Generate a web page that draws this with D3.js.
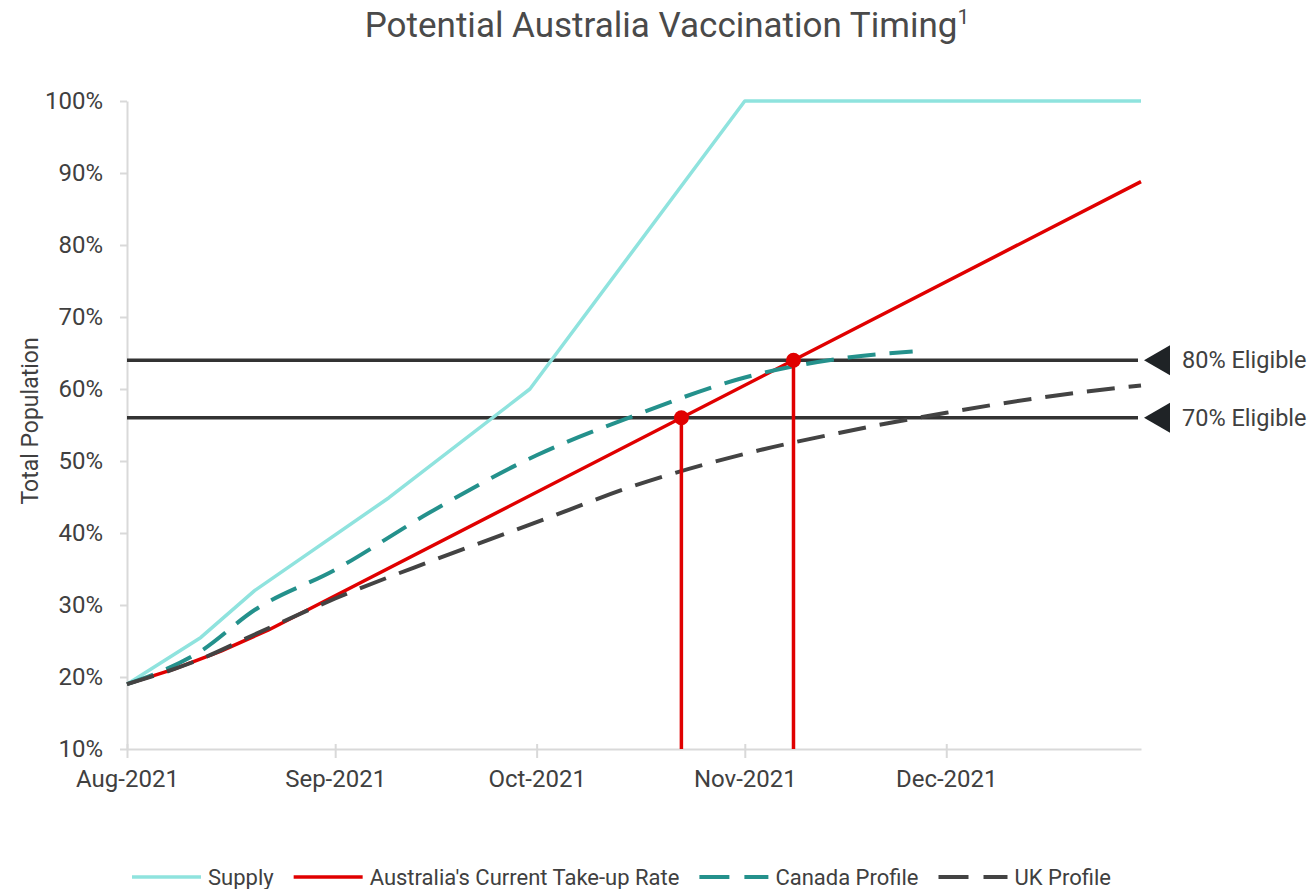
<!DOCTYPE html>
<html>
<head>
<meta charset="utf-8">
<script src="https://cdn.jsdelivr.net/npm/d3@7"></script>
<style>
  body { margin: 0; background: #fff; }
  svg { display: block; font-family: Roboto, "Noto Sans", sans-serif; }
</style>
</head>
<body>
<svg width="1312" height="889"></svg>
<script>
// series data (values are % of total population)
const supplyDates = ["2021-08-01", "2021-08-12", "2021-08-20", "2021-09-09", "2021-09-30", "2021-11-01", "2021-12-30"];
const supplyValues = [19, 25.5, 32, 44.9, 60, 100, 100];

const takeupDates = ["2021-08-01", "2021-08-08", "2021-08-15", "2021-08-22", "2021-12-30"];
const takeupValues = [19, 21.1, 23.6, 26.5, 88.8];

const canadaDates = ["2021-08-01", "2021-08-12", "2021-08-20", "2021-09-01", "2021-09-15", "2021-10-01", "2021-10-15", "2021-11-01", "2021-11-15", "2021-11-26"];
const canadaValues = [19, 23.6, 29.3, 34.9, 42.8, 50.8, 56.1, 61.6, 64.2, 65.2];

const ukDates = ["2021-08-01", "2021-08-12", "2021-08-20", "2021-09-01", "2021-09-15", "2021-10-01", "2021-10-15", "2021-11-01", "2021-11-15", "2021-12-01", "2021-12-15", "2021-12-30"];
const ukValues = [19, 22.5, 25.9, 30.9, 36.0, 41.5, 46.4, 51.0, 53.9, 56.7, 58.8, 60.5];

const eligibleLabels = ["80% Eligible", "70% Eligible"];
const eligibleValues = [64, 56];

const xTickDates = ["2021-08-01", "2021-09-01", "2021-10-01", "2021-11-01", "2021-12-01"];
const yTicks = [10, 20, 30, 40, 50, 60, 70, 80, 90, 100];

const seriesNames = ["Supply", "Australia's Current Take-up Rate", "Canada Profile", "UK Profile"];

const parse = d3.timeParse("%Y-%m-%d");
const zip = (ds, vs) => ds.map((d, i) => ({date: parse(d), value: vs[i]}));

const series = [
    {name: seriesNames[0], data: zip(supplyDates, supplyValues), color: "#8fe3de", width: 3.5, dash: null, curve: d3.curveLinear},
    {name: seriesNames[1], data: zip(takeupDates, takeupValues), color: "#e00000", width: 3.5, dash: null, curve: d3.curveLinear},
    {name: seriesNames[2], data: zip(canadaDates, canadaValues), color: "#24918c", width: 4, dash: "28,14", curve: d3.curveMonotoneX},
    {name: seriesNames[3], data: zip(ukDates, ukValues), color: "#434343", width: 4, dash: "28,14", curve: d3.curveMonotoneX}
];

const svg = d3.select("svg");
const textColor = "#404040";

const x = d3.scaleTime()
    .domain([parse("2021-08-01"), parse("2021-12-30")])
    .range([127, 1141]);
const y = d3.scaleLinear()
    .domain([10, 100])
    .range([749, 101]);

// title
const title = svg.append("text")
    .attr("x", 667)
    .attr("y", 37)
    .attr("text-anchor", "middle")
    .attr("fill", "#4a4a4a")
    .attr("font-size", 35)
    .text("Potential Australia Vaccination Timing");
title.append("tspan")
    .attr("font-size", 21)
    .attr("dy", -13)
    .text("1");

// axes
const xAxis = svg.append("g")
    .attr("transform", `translate(0,${y(10)})`)
    .call(d3.axisBottom(x).tickValues(xTickDates.map(parse)).tickSize(9).tickSizeOuter(0).tickPadding(0).tickFormat(d3.timeFormat("%b-%Y")));
xAxis.selectAll(".tick line").attr("y1", -5);
xAxis.selectAll(".tick text").attr("dy", 0).attr("y", 38);

const yAxis = svg.append("g")
    .attr("transform", `translate(${x.range()[0]},0)`)
    .call(d3.axisLeft(y).tickValues(yTicks).tickSize(7).tickSizeOuter(0).tickPadding(17).tickFormat(d => d + "%"));

[xAxis, yAxis].forEach(a => {
    a.select(".domain").attr("stroke", "#d9d9d9").attr("stroke-width", 2);
    a.selectAll(".tick line").attr("stroke", "#d9d9d9").attr("stroke-width", 2);
    a.selectAll(".tick text").attr("fill", textColor).attr("font-size", 24).attr("font-family", "Roboto, sans-serif");
});

svg.append("text")
    .attr("transform", `translate(38,421) rotate(-90)`)
    .attr("text-anchor", "middle")
    .attr("fill", textColor)
    .attr("font-size", 23)
    .text("Total Population");

// eligible thresholds
const lastDate = x.domain()[1];
eligibleValues.forEach((v, i) => {
    const yy = y(v);
    svg.append("line")
        .attr("x1", x.range()[0]).attr("x2", x(lastDate) - 3)
        .attr("y1", yy).attr("y2", yy)
        .attr("stroke", "#333").attr("stroke-width", 3.5);
    const tx = x(lastDate) + 3;
    svg.append("path")
        .attr("d", `M${tx},${yy}L${tx + 26},${yy - 15}L${tx + 26},${yy + 15}Z`)
        .attr("fill", "#1f2326");
    svg.append("text")
        .attr("x", tx + 38)
        .attr("y", yy)
        .attr("dy", "0.35em")
        .attr("fill", textColor)
        .attr("font-size", 23.5)
        .text(eligibleLabels[i]);
});

// series lines
series.forEach(s => {
    const line = d3.line().curve(s.curve).x(d => x(d.date)).y(d => y(d.value));
    svg.append("path")
        .datum(s.data)
        .attr("d", line)
        .attr("fill", "none")
        .attr("stroke", s.color)
        .attr("stroke-width", s.width)
        .attr("stroke-dasharray", s.dash)
        .attr("stroke-linejoin", "round");
});

// where the take-up line reaches each threshold
const takeup = series[1].data;
eligibleValues.forEach(v => {
    const i = takeup.findIndex(d => d.value >= v);
    const a = takeup[i - 1], b = takeup[i];
    const t = (v - a.value) / (b.value - a.value);
    const date = new Date(+a.date + t * (b.date - a.date));
    svg.append("line")
        .attr("x1", x(date)).attr("x2", x(date))
        .attr("y1", y(v)).attr("y2", y(10))
        .attr("stroke", "#e00000").attr("stroke-width", 3.5);
    svg.append("circle")
        .attr("cx", x(date)).attr("cy", y(v)).attr("r", 7.5)
        .attr("fill", "#e00000");
});

// legend
const legend = svg.append("g").attr("transform", "translate(132,877)");
let lx = 0;
series.forEach(s => {
    legend.append("line")
        .attr("x1", lx).attr("x2", lx + 69)
        .attr("stroke", s.color)
        .attr("stroke-width", s.width)
        .attr("stroke-dasharray", s.dash ? "30,15" : null);
    const t = legend.append("text")
        .attr("x", lx + 76)
        .attr("dy", "0.35em")
        .attr("fill", textColor)
        .attr("font-size", 22)
        .text(s.name);
    lx += 76 + t.node().getComputedTextLength() + 20;
});
</script>
</body>
</html>
